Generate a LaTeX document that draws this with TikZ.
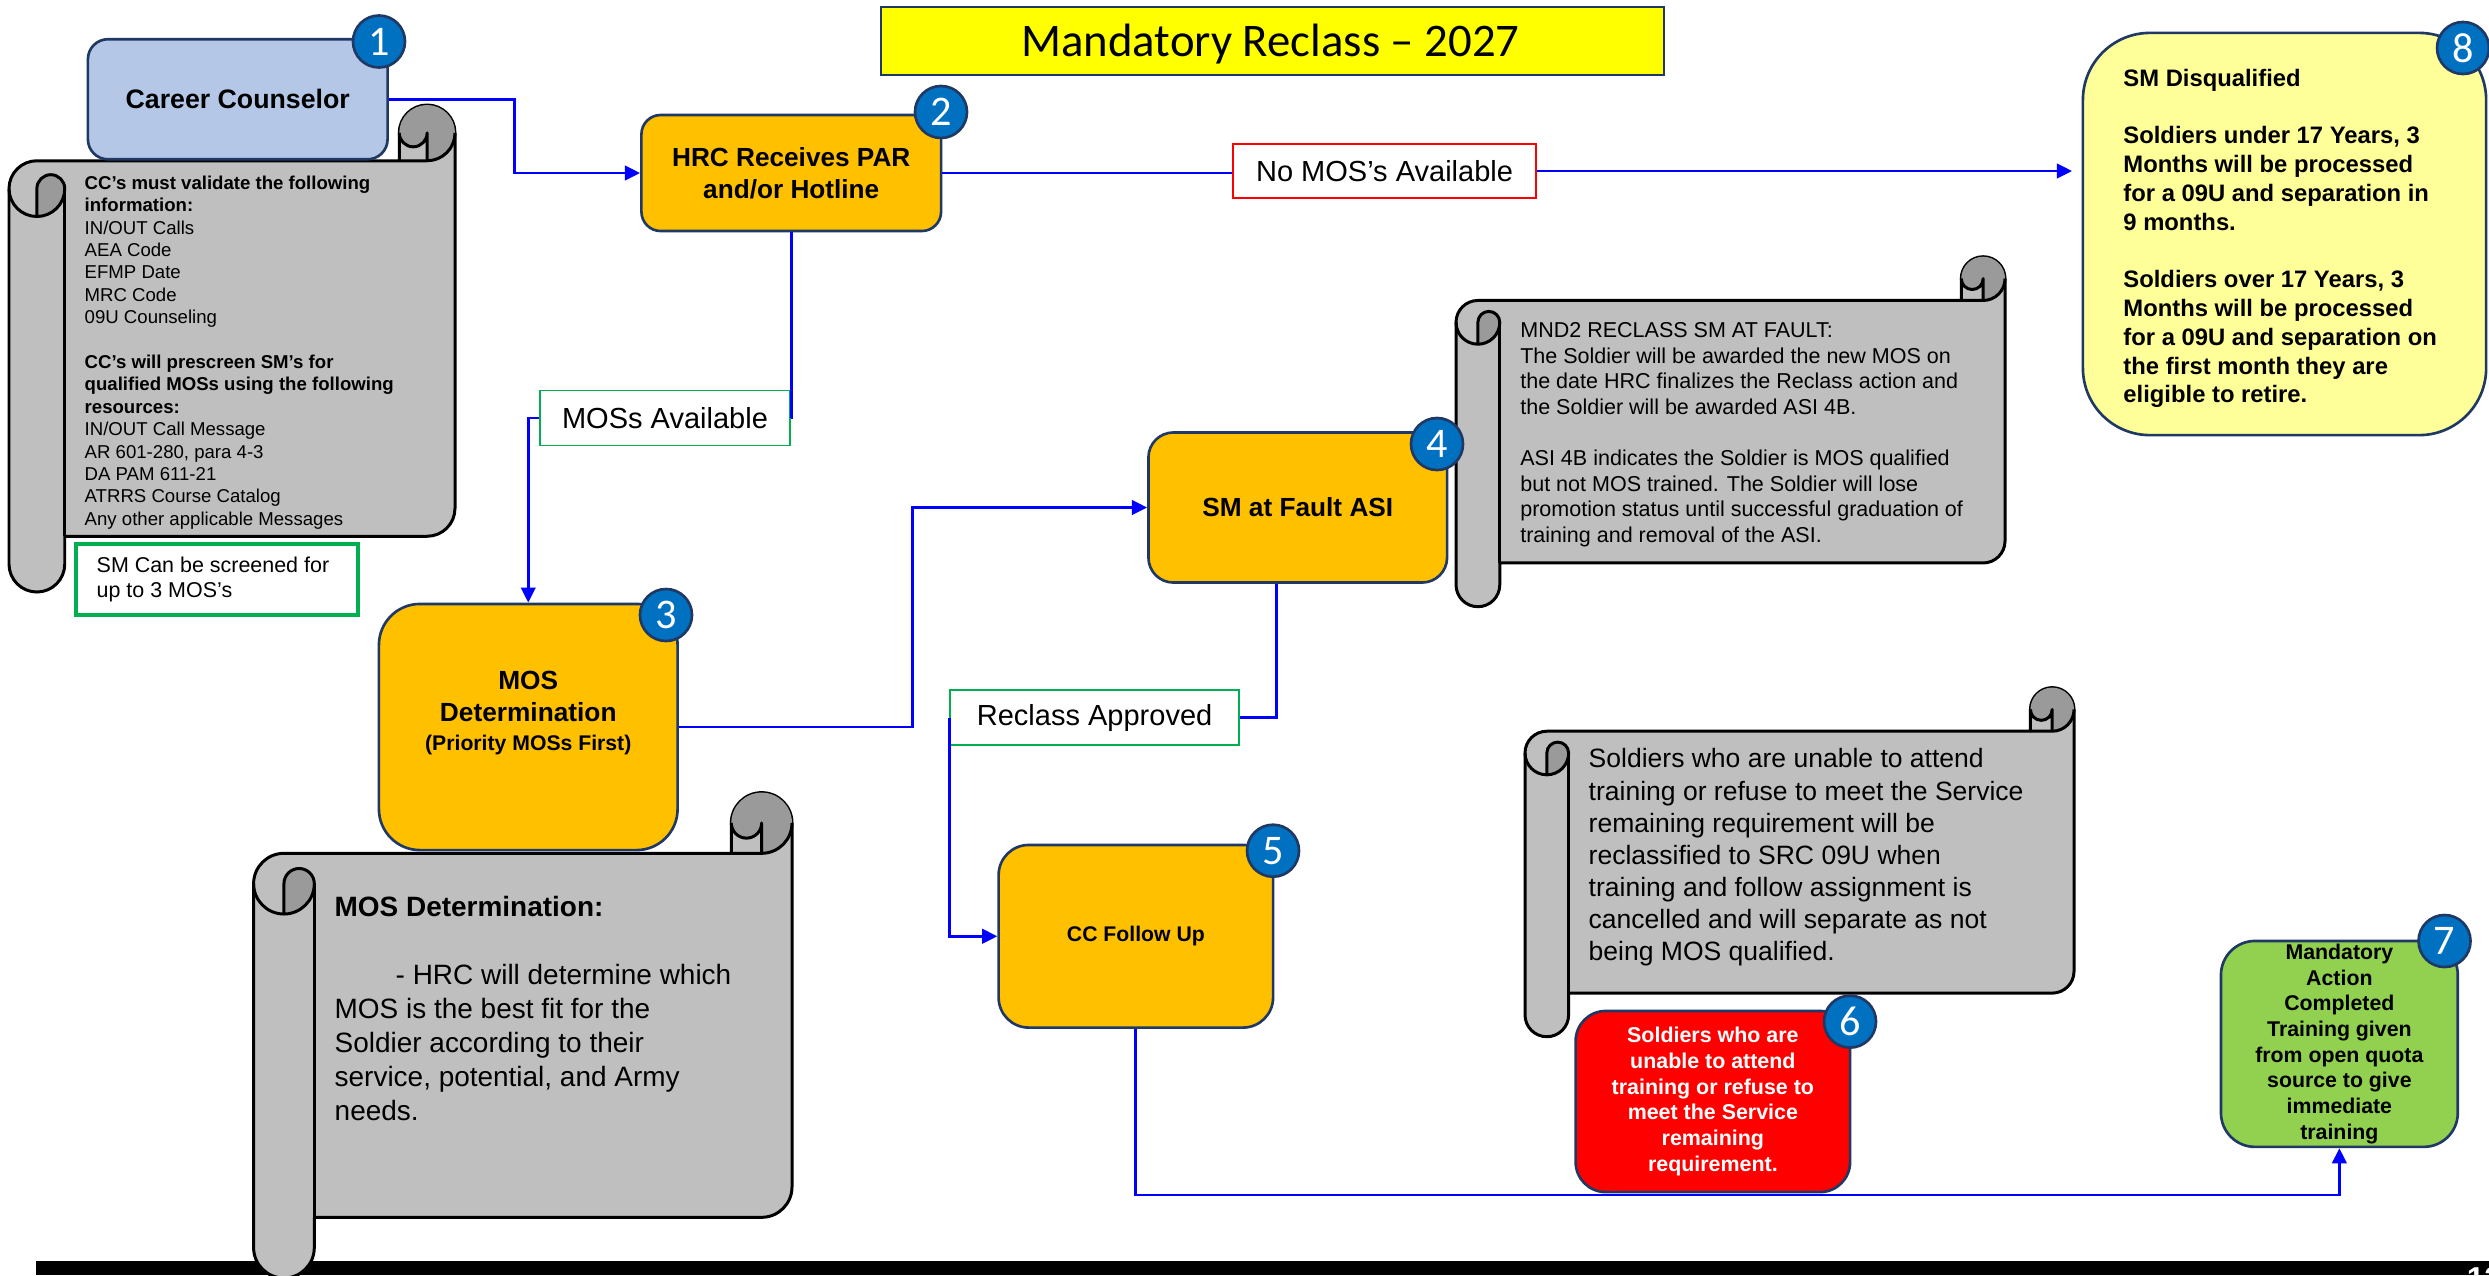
\documentclass[tikz,border=0pt]{standalone}
\usepackage{fontspec}
\setmainfont{Liberation Sans}
\newfontfamily\titlefont{Carlito}
\usetikzlibrary{arrows.meta,calc}

\definecolor{navyline}{HTML}{1F3864}
\definecolor{boxorange}{HTML}{FFC000}
\definecolor{boxblue}{HTML}{B4C7E7}
\definecolor{boxpale}{HTML}{FFFF99}
\definecolor{boxgreen}{HTML}{92D050}
\definecolor{boxred}{HTML}{FF0000}
\definecolor{badgeblue}{HTML}{0070C0}
\definecolor{scrollgray}{HTML}{BFBFBF}
\definecolor{scrolldark}{HTML}{9A9A9A}
\definecolor{notegreen}{HTML}{00B050}
\definecolor{flowblue}{HTML}{0000FF}
\definecolor{titleyellow}{HTML}{FFFF00}

\newcommand{\fsz}[2]{\fontsize{#1pt}{#2pt}\selectfont}

% horizontal scroll: left, top, right, bottom, curl size (px units, y pointing down)
\newcommand{\hscroll}[5]{%
  \pgfmathsetmacro{\sL}{#1}\pgfmathsetmacro{\sT}{#2}%
  \pgfmathsetmacro{\sR}{#3}\pgfmathsetmacro{\sB}{#4}%
  \pgfmathsetmacro{\sc}{#5}\pgfmathsetmacro{\sh}{#5/2}\pgfmathsetmacro{\sq}{#5/4}%
  % body with rolled ends
  \filldraw[scrollline, fill=scrollgray]
    (\sL,\sT+1.5*\sc) arc[start angle=180,end angle=270,radius=\sh]
    -- (\sR-\sc,\sT+\sc) -- (\sR-\sc,\sT+\sh)
    arc[start angle=180,end angle=360,radius=\sh]
    -- (\sR,\sB-1.5*\sc)
    arc[start angle=0,end angle=90,radius=\sh]
    -- (\sL+\sc,\sB-\sc) -- (\sL+\sc,\sB-\sh)
    arc[start angle=0,end angle=180,radius=\sh]
    -- cycle;
  % shaded insides of the curls
  \fill[scrolldark]
    (\sL+\sh,\sT+2*\sc) arc[start angle=90,end angle=0,radius=\sh]
    arc[start angle=0,end angle=-180,radius=\sq] -- cycle;
  \fill[scrolldark]
    (\sR-\sh,\sT+\sc) arc[start angle=90,end angle=-180,radius=\sh]
    arc[start angle=180,end angle=0,radius=\sq] -- cycle;
  % curl contours
  \draw[scrollline]
    (\sR-\sc,\sT+\sc) -- (\sR-\sh,\sT+\sc) arc[start angle=90,end angle=0,radius=\sh];
  \draw[scrollline]
    (\sR-\sh,\sT+\sc) -- (\sR-\sh,\sT+\sh) arc[start angle=0,end angle=180,radius=\sq];
  \draw[scrollline]
    (\sL+\sh,\sT+2*\sc) -- (\sL+\sh,\sT+1.5*\sc)
    arc[start angle=180,end angle=360,radius=\sq]
    arc[start angle=0,end angle=180,radius=\sh];
  \draw[scrollline] (\sL+\sc,\sT+1.5*\sc) -- (\sL+\sc,\sB-\sc);
}

\tikzset{
  flowbox/.style={draw=navyline, line width=0.75pt, inner sep=0pt, align=center},
  badge/.style={circle, draw=navyline, line width=0.75pt, fill=badgeblue,
    minimum size=0.52cm, inner sep=0pt, text=white, font=\titlefont\fsz{12}{12}},
  tag/.style={draw, line width=0.55pt, fill=white, inner sep=0pt, font=\fsz{8.25}{9}},
  conn/.style={draw=flowblue, line width=0.8pt},
  arrowed/.style={conn, -{Triangle[length=4.3pt,width=4.1pt]}},
  scrollline/.style={draw=black, line width=0.85pt, line join=round},
  scrolltext/.style={anchor=north west, inner sep=0pt, align=left},
}

\begin{document}
\begin{tikzpicture}[x=0.01cm, y=-0.01cm]
\useasboundingbox (0,0) rectangle (2489,1275);
\fill[white] (0,0) rectangle (2489,1275);

% footer band
\fill[black] (36,1261) rectangle (2489,1275);
\node[anchor=north west, inner sep=0pt, text=white, font=\bfseries\fsz{9}{9}] (pagenum) at (2466,1267) {12};

% title
\node[draw=navyline, line width=0.6pt, fill=titleyellow, minimum width=7.82cm, minimum height=0.683cm,
  inner sep=0pt] (title) at (1272.6,40.85) {};
\node[anchor=base, inner sep=0pt, font=\titlefont\fsz{13.3}{14}] (titletxt) at (1270.5,56.7)
  {Mandatory Reclass – 2027};

% scrolls
\hscroll{9}{105}{455}{592}{55.75}
\hscroll{253.6}{792.6}{792}{1278}{60.7}
\hscroll{1456}{256.7}{2005}{606.7}{43.75}
\hscroll{1525}{687.6}{2074}{1036.7}{43.6}

\node[scrolltext, font=\fsz{5.29}{6.37}] (s1txt) at (84,175) {%
\textbf{CC’s must validate the following}\\
\textbf{information:}\\
IN/OUT Calls\\
AEA Code\\
EFMP Date\\
MRC Code\\
09U Counseling\\[6.37pt]
\textbf{CC’s will prescreen SM’s for}\\
\textbf{qualified MOSs using the following}\\
\textbf{resources:}\\
IN/OUT Call Message\\
AR 601-280, para 4-3\\
DA PAM 611-21\\
ATRRS Course Catalog\\
Any other applicable Messages};

\node[scrolltext, font=\fsz{7.95}{9.67}] (s3txt) at (334,895.7) {%
\textbf{MOS Determination:}\\[9.67pt]
\hspace*{0.61cm}- HRC will determine which\\
MOS is the best fit for the\\
Soldier according to their\\
service, potential, and Army\\
needs.};

\node[scrolltext, font=\fsz{6.12}{7.28}] (s4txt) at (1519.6,322) {%
MND2 RECLASS SM AT FAULT:\\
The Soldier will be awarded the new MOS on\\
the date HRC finalizes the Reclass action and\\
the Soldier will be awarded ASI 4B.\\[7.28pt]
ASI 4B indicates the Soldier is MOS qualified\\
but not MOS trained. The Soldier will lose\\
promotion status until successful graduation of\\
training and removal of the ASI.};

\node[scrolltext, font=\fsz{7.54}{9.12}] (s6txt) at (1588,748) {%
Soldiers who are unable to attend\\
training or refuse to meet the Service\\
remaining requirement will be\\
reclassified to SRC 09U when\\
training and follow assignment is\\
cancelled and will separate as not\\
being MOS qualified.};

% process boxes
\node[flowbox, fill=boxblue, minimum width=2.995cm, minimum height=1.2cm, rounded corners=0.2cm,
  font=\bfseries\fsz{7.6}{9}] (cc) at (237.75,99.25) {Career Counselor};
\node[flowbox, fill=boxorange, minimum width=2.995cm, minimum height=1.16cm, rounded corners=0.193cm,
  font=\bfseries\fsz{7.45}{9.22}] (hrc) at (791.25,173) {HRC Receives PAR\\and/or Hotline};
\node[flowbox, fill=boxorange, minimum width=2.985cm, minimum height=2.46cm, rounded corners=0.41cm]
  (mosdet) at (528.25,727) {};
\node[align=center, inner sep=0pt, font=\bfseries\fsz{7.47}{9.1}] (mosdettxt) at (528.25,713)
  {MOS\\Determination\\[-0.9pt]{\fsz{6.03}{8.17}(Priority MOSs First)}};
\node[flowbox, fill=boxorange, minimum width=2.985cm, minimum height=1.5cm, rounded corners=0.25cm,
  font=\bfseries\fsz{7.46}{9}] (fault) at (1297.75,507.5) {SM at Fault ASI};
\node[flowbox, fill=boxorange, minimum width=2.743cm, minimum height=1.825cm, rounded corners=0.3cm,
  font=\bfseries\fsz{6.03}{7.3}] (followup) at (1135.85,936.25) {CC Follow Up};
\node[flowbox, fill=boxred, text=white, minimum width=2.743cm, minimum height=1.81cm, rounded corners=0.3cm,
  font=\bfseries\fsz{6.09}{7.31}] (refuse) at (1712.85,1101.5)
  {Soldiers who are\\unable to attend\\training or refuse to\\meet the Service\\remaining\\requirement.};
\node[flowbox, fill=boxgreen, minimum width=2.367cm, minimum height=2.058cm, rounded corners=0.34cm,
  font=\bfseries\fsz{6.06}{7.31}] (done) at (2339.35,1043.9)
  {Mandatory\\Action\\Completed\\Training given\\from open quota\\source to give\\immediate\\training};
\node[flowbox, fill=boxpale, minimum width=4.03cm, minimum height=4.02cm, rounded corners=0.67cm]
  (disq) at (2284.5,234) {};
\node[scrolltext, font=\bfseries\fsz{6.77}{8.19}] (disqtxt) at (2122.7,68.2) {%
SM Disqualified\\[8.19pt]
Soldiers under 17 Years, 3\\
Months will be processed\\
for a 09U and separation in\\
9 months.\\[8.19pt]
Soldiers over 17 Years, 3\\
Months will be processed\\
for a 09U and separation on\\
the first month they are\\
eligible to retire.};

% note box
\node[draw=notegreen, line width=1pt, minimum width=2.82cm, minimum height=0.71cm, inner sep=0pt]
  (screen) at (217,579.5) {};
\node[anchor=west, align=left, inner sep=0pt, font=\fsz{6.1}{7.31}] (screentxt) at (96,579.5)
  {SM Can be screened for\\up to 3 MOS’s};

% decision labels
\node[tag, draw=boxred, minimum width=3.03cm, minimum height=0.547cm] (nomos) at (1384.5,171) {No MOS’s Available};
\node[tag, draw=notegreen, minimum width=2.5cm, minimum height=0.55cm] (mosav) at (665,418) {MOSs Available};
\node[tag, draw=notegreen, minimum width=2.882cm, minimum height=0.554cm] (reclass) at (1094.6,717.7) {Reclass Approved};

% connectors
\coordinate (lowturn) at (2339.35,1195);
\draw[arrowed] (cc.east) -- (514.7,99.25) |- (hrc.west);
\draw[conn] (hrc.south) |- (mosav.east);
\draw[arrowed] (mosav.west) -| (mosdet.north);
\draw[conn] (hrc.east) -- (hrc.east -| nomos.west);
\draw[arrowed, shorten >=2.7pt] (nomos.east) -- (nomos.east -| disq.west);
\draw[arrowed] (mosdet.east) -- (912.5,727) |- (fault.west);
\draw[conn] ($(fault.south)+(-21,0)$) |- (reclass.east);
\draw[arrowed] (reclass.west) |- (followup.west);
\draw[arrowed] (followup.south) |- (lowturn) -- (done.south);

% step numbers
\node[badge] (b1) at (379,41.5) {1};
\node[badge] (b2) at (941,112) {2};
\node[badge] (b3) at (666,615) {3};
\node[badge] (b4) at (1437,444) {4};
\node[badge] (b5) at (1273,850.7) {5};
\node[badge] (b6) at (1850,1021.6) {6};
\node[badge] (b7) at (2444.5,941) {7};
\node[badge] (b8) at (2463,48) {8};
\end{tikzpicture}
\end{document}
